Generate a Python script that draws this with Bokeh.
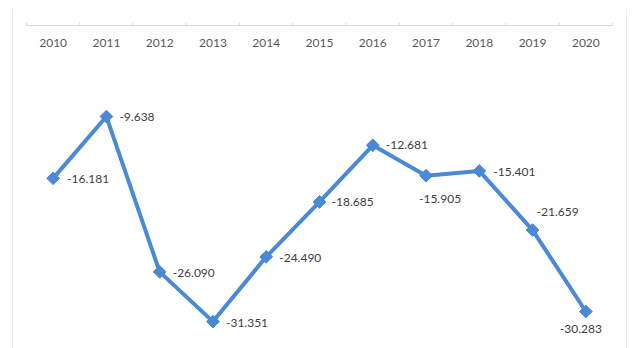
import math
from bokeh.plotting import figure
from bokeh.models import Range1d, Span, ColumnDataSource
from bokeh.core.properties import value
from bokeh.embed import file_html
from bokeh.resources import INLINE

years = ["2010", "2011", "2012", "2013", "2014", "2015", "2016", "2017", "2018", "2019", "2020"]
values = [-16.181, -9.638, -26.090, -31.351, -24.490, -18.685, -12.681, -15.905, -15.401, -21.659, -30.283]
labels = ["-16.181", "-9.638", "-26.090", "-31.351", "-24.490", "-18.685", "-12.681", "-15.905", "-15.401", "-21.659", "-30.283"]

# label placement style (pixel offsets from the point)
label_dx = [14, 13, 13, 13, 13, 12, 13, 14, 14, 25, -5]
label_dy = [1, 0, 1, 1, 1, 0, 0, 23, 1, -18, 17]
label_align = ["left"] * 7 + ["center", "left", "center", "center"]

n = len(years)
xs = [i + 0.5 for i in range(n)]

src = ColumnDataSource(dict(x=xs, y=values, lab=labels, dx=label_dx, dy=label_dy, al=label_align))

p = figure(width=632, height=348, output_backend="svg", toolbar_location=None,
           x_range=Range1d(-0.263, n + 0.263), y_range=Range1d(-34.2, 1.8),
           x_axis_location=None, y_axis_location=None,
           min_border_left=12, min_border_right=6, min_border_top=8, min_border_bottom=0)
p.grid.visible = False
p.outline_line_color = None
p.background_fill_color = "white"
p.border_fill_color = "white"

border_col = "#d9d9d9"
p.add_layout(Span(location=p.x_range.start, dimension="height", line_color=border_col, line_width=1))
p.add_layout(Span(location=p.x_range.end, dimension="height", line_color=border_col, line_width=1))

# category axis at y=0
p.segment(x0=[0], y0=[0], x1=[n], y1=[0], line_color=border_col, line_width=1)
p.segment(x0=list(range(n + 1)), y0=[0] * (n + 1), x1=list(range(n + 1)), y1=[0.3] * (n + 1),
          line_color=border_col, line_width=1)
p.text(x=xs, y=[0] * n, text=years, text_align="center", text_baseline="middle", y_offset=17,
       text_font=value("Lato"), text_font_size="12px", text_color="#595959")

line_col = "#4a89d6"
p.line("x", "y", source=src, line_color=line_col, line_width=4, line_join="round")
p.scatter("x", "y", source=src, marker="square", size=9, angle=math.pi / 4,
          fill_color=line_col, line_color=line_col)
p.text("x", "y", text="lab", source=src, x_offset="dx", y_offset="dy", text_align="al",
       text_baseline="middle", text_font=value("Lato"), text_font_size="12px", text_color="#404040")

open("out.html", "w").write(file_html(p, INLINE))
